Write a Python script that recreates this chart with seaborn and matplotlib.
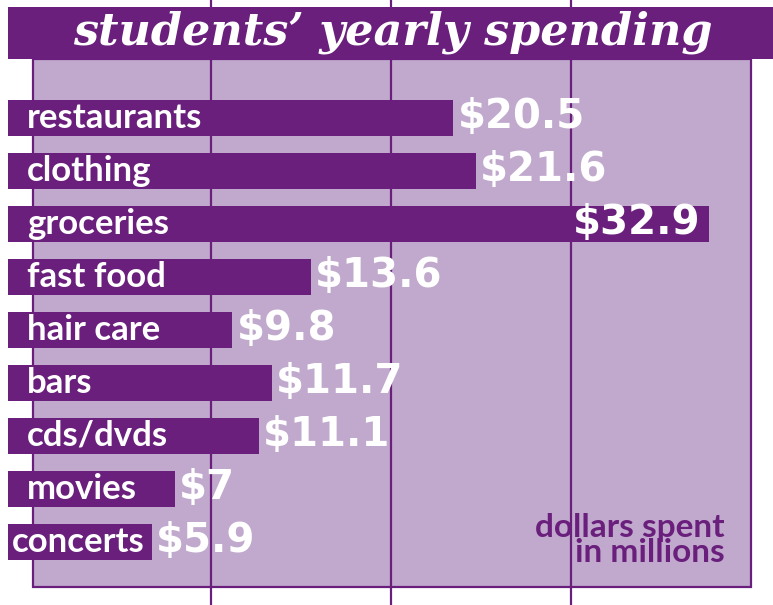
import matplotlib
matplotlib.use("Agg")
import matplotlib.pyplot as plt
import pandas as pd
import seaborn as sns
from matplotlib.patches import Rectangle
from matplotlib.transforms import blended_transform_factory

# --- data
categories = ["restaurants", "clothing", "groceries", "fast food", "hair care",
              "bars", "cds/dvds", "movies", "concerts"]
spending = [20.5, 21.6, 32.9, 13.6, 9.8, 11.7, 11.1, 7, 5.9]
value_labels = ["$20.5", "$21.6", "$32.9", "$13.6", "$9.8", "$11.7", "$11.1", "$7", "$5.9"]
title = "students\u2019 yearly spending"
unit_note = "dollars spent\nin millions"

DARK = "#6a1f7c"
LIGHT = "#c0a9cd"
W, H = 773, 605

sns.set_theme(style="white")
plt.rcParams["font.family"] = ["Lato", "DejaVu Sans"]

fig = plt.figure(figsize=(W / 100, H / 100), dpi=100)
ax = fig.add_axes([0, 0, 1, 1])

df = pd.DataFrame({"category": categories, "spending": spending})
sns.barplot(data=df, y="category", x="spending", orient="h", color=DARK,
            saturation=1, width=0.69, ax=ax, zorder=2)

# x: zero at 30 px, 20.65 px per million
px_per = 20.65
x0 = 30
ax.set_xlim(-x0 / px_per, (W - x0) / px_per)
ax.set_ylim((H - 118) / 53, -118 / 53)
ax.axis("off")

# bars extend a little past zero on the left
left = (8 - x0) / px_per
for p in ax.patches:
    p.set_x(left)
    p.set_width(p.get_width() - left)
    p.set_edgecolor("none")

# background panel + decorative vertical rules (axes fraction == figure fraction)
ax.add_patch(Rectangle((33 / W, 1 - 587 / H), (751 - 33) / W, (587 - 59) / H,
                       transform=ax.transAxes, facecolor=LIGHT, edgecolor=DARK,
                       lw=1.6, zorder=0, clip_on=False))
for px in [211, 391, 571]:
    ax.plot([px / W, px / W], [0, 1], transform=ax.transAxes, color=DARK,
            lw=1.6, zorder=1, clip_on=False)

trans = blended_transform_factory(ax.transAxes, ax.transData)
base = 10 / 53  # baseline sits a bit below the bar centre
for i, (cat, val, lab) in enumerate(zip(categories, spending, value_labels)):
    lx = 12 if cat == "concerts" else 27
    ax.text(lx / W, i + base, cat, transform=trans, color="white", fontsize=25,
            fontweight="bold", ha="left", va="baseline", zorder=3)
    if val == max(spending):
        ax.text(val - 0.45, i + base, lab, color="white", fontsize=29,
                family="DejaVu Sans", fontweight="bold",
                ha="right", va="baseline", zorder=3)
    else:
        ax.text(val + 0.2, i + base, lab, color="white", fontsize=29,
                family="DejaVu Sans", fontweight="bold",
                ha="left", va="baseline", zorder=3)

# title bar
ax.add_patch(Rectangle((8 / W, 1 - 59 / H), 1, 52 / H, transform=ax.transAxes,
                       facecolor=DARK, edgecolor="none", zorder=4, clip_on=False))
ax.text(393 / W, 1 - 32 / H, title, transform=ax.transAxes, color="white",
        fontsize=32, family="DejaVu Serif", fontweight="bold", style="italic",
        ha="center", va="center", zorder=5)

ax.text(725 / W, 1 - 562 / H, unit_note, transform=ax.transAxes, color=DARK,
        fontsize=24, fontweight="bold", ha="right", va="baseline",
        linespacing=0.85, multialignment="right", zorder=5)

fig.savefig("out.png", dpi=100)
